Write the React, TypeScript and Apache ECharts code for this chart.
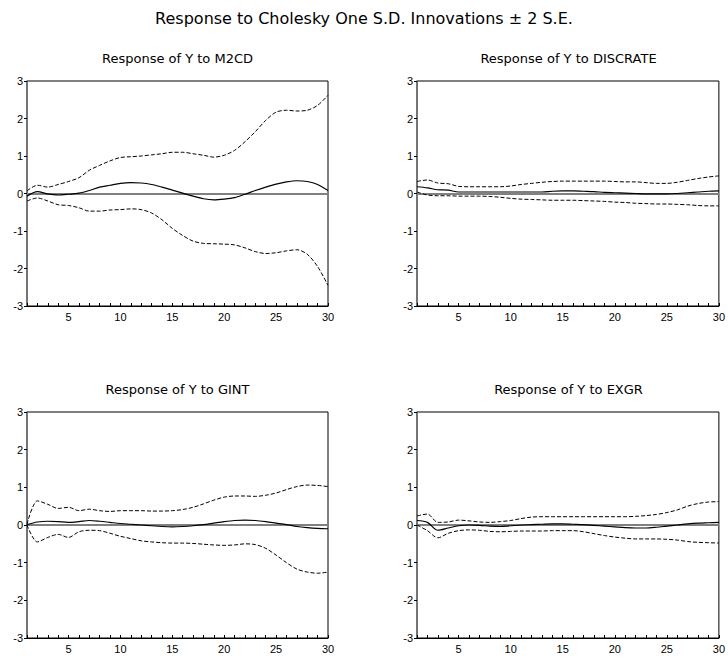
import React, { useEffect, useRef } from "react";
import * as echarts from "echarts";

const periods = Array.from({ length: 30 }, (_, i) => String(i + 1));

const mainTitle = "Response to Cholesky One S.D. Innovations \u00b1 2 S.E.";
const panelTitles = [
  "Response of Y to M2CD",
  "Response of Y to DISCRATE",
  "Response of Y to GINT",
  "Response of Y to EXGR",
];

// M2CD
const m2cdResp = [-0.07, 0.05, -0.01, -0.04, -0.02, 0.01, 0.08, 0.17, 0.22, 0.27, 0.29, 0.28, 0.24, 0.17, 0.09, 0.01, -0.07, -0.14, -0.17, -0.15, -0.11, -0.02, 0.08, 0.17, 0.25, 0.31, 0.34, 0.32, 0.24, 0.08];
const m2cdUpper = [0.07, 0.22, 0.17, 0.24, 0.32, 0.42, 0.62, 0.75, 0.87, 0.96, 0.98, 1.0, 1.03, 1.06, 1.1, 1.1, 1.06, 1.02, 0.97, 1.02, 1.15, 1.38, 1.65, 1.95, 2.17, 2.22, 2.2, 2.22, 2.35, 2.62];
const m2cdLower = [-0.2, -0.12, -0.2, -0.3, -0.32, -0.38, -0.47, -0.47, -0.44, -0.43, -0.41, -0.43, -0.52, -0.7, -0.93, -1.12, -1.27, -1.33, -1.34, -1.35, -1.37, -1.45, -1.55, -1.6, -1.58, -1.53, -1.5, -1.62, -1.95, -2.45];

// DISCRATE
const discResp = [0.18, 0.15, 0.1, 0.09, 0.04, 0.04, 0.04, 0.04, 0.04, 0.04, 0.04, 0.04, 0.04, 0.06, 0.07, 0.07, 0.06, 0.05, 0.03, 0.02, 0.01, 0.0, -0.01, -0.01, -0.01, 0.0, 0.02, 0.04, 0.06, 0.07];
const discUpper = [0.32, 0.36, 0.28, 0.26, 0.19, 0.18, 0.18, 0.18, 0.18, 0.2, 0.24, 0.27, 0.3, 0.32, 0.33, 0.33, 0.33, 0.33, 0.33, 0.32, 0.31, 0.31, 0.29, 0.27, 0.27, 0.3, 0.35, 0.4, 0.44, 0.47];
const discLower = [0.04, -0.04, -0.06, -0.06, -0.07, -0.07, -0.07, -0.08, -0.1, -0.13, -0.15, -0.16, -0.17, -0.18, -0.18, -0.18, -0.19, -0.2, -0.21, -0.23, -0.24, -0.26, -0.27, -0.28, -0.28, -0.29, -0.3, -0.32, -0.33, -0.33];

// GINT
const gintResp = [0.01, 0.08, 0.1, 0.09, 0.07, 0.09, 0.12, 0.1, 0.07, 0.04, 0.02, 0.0, -0.02, -0.04, -0.05, -0.04, -0.02, 0.01, 0.05, 0.09, 0.12, 0.13, 0.12, 0.09, 0.05, 0.01, -0.04, -0.07, -0.09, -0.1];
const gintUpper = [0.02, 0.64, 0.55, 0.44, 0.47, 0.38, 0.42, 0.38, 0.36, 0.38, 0.38, 0.38, 0.37, 0.37, 0.38, 0.41, 0.47, 0.56, 0.66, 0.74, 0.77, 0.77, 0.76, 0.79, 0.85, 0.94, 1.02, 1.06, 1.05, 1.02];
const gintLower = [0.0, -0.45, -0.33, -0.25, -0.33, -0.18, -0.14, -0.15, -0.22, -0.3, -0.36, -0.42, -0.45, -0.47, -0.48, -0.48, -0.49, -0.51, -0.53, -0.54, -0.53, -0.5, -0.52, -0.62, -0.8, -1.0, -1.17, -1.25, -1.28, -1.25];

// EXGR
const exgrResp = [0.12, 0.07, -0.14, -0.08, -0.02, 0.0, -0.01, -0.03, -0.04, -0.02, 0.0, 0.01, 0.02, 0.03, 0.03, 0.02, 0.01, -0.01, -0.03, -0.05, -0.07, -0.08, -0.08, -0.06, -0.03, 0.0, 0.03, 0.05, 0.06, 0.07];
const exgrUpper = [0.24, 0.29, 0.07, 0.08, 0.13, 0.11, 0.08, 0.07, 0.09, 0.12, 0.17, 0.21, 0.22, 0.22, 0.22, 0.22, 0.22, 0.22, 0.22, 0.22, 0.22, 0.23, 0.25, 0.28, 0.33, 0.4, 0.5, 0.57, 0.61, 0.62];
const exgrLower = [0.0, -0.15, -0.34, -0.22, -0.15, -0.13, -0.14, -0.17, -0.18, -0.17, -0.16, -0.16, -0.16, -0.15, -0.15, -0.15, -0.18, -0.23, -0.28, -0.32, -0.35, -0.37, -0.37, -0.37, -0.38, -0.4, -0.44, -0.46, -0.47, -0.48];

const panels = [
  { resp: m2cdResp, upper: m2cdUpper, lower: m2cdLower },
  { resp: discResp, upper: discUpper, lower: discLower },
  { resp: gintResp, upper: gintUpper, lower: gintLower },
  { resp: exgrResp, upper: exgrUpper, lower: exgrLower },
];

const FONT = "Liberation Sans, Arial, sans-serif";
const TITLE_FONT = "DejaVu Sans, Liberation Sans, sans-serif";

export default function App() {
  const ref = useRef<HTMLDivElement>(null);
  useEffect(() => {
    if (!ref.current) return;
    const chart = echarts.init(ref.current, undefined, { renderer: "svg" });
    const grids = [
      { left: 27, top: 81, width: 301, height: 225 },
      { left: 417, top: 81, width: 303, height: 225 },
      { left: 27, top: 412, width: 301, height: 226 },
      { left: 417, top: 412, width: 303, height: 226 },
    ];
    const titleCenters = [
      [177.5, 58],
      [568.5, 58],
      [177.5, 389],
      [568.5, 389],
    ];
    const series: any[] = [];
    panels.forEach((p, i) => {
      series.push({
        type: "line",
        xAxisIndex: i,
        yAxisIndex: i,
        data: p.resp,
        showSymbol: false,
        smooth: 0.3,
        lineStyle: { color: "#000", width: 1.2 },
        z: 5,
        markLine: {
          silent: true,
          symbol: "none",
          label: { show: false },
          lineStyle: { color: "#808080", width: 2, type: "solid" },
          data: [{ yAxis: 0 }],
          z: 3,
        },
      });
      series.push({
        type: "line",
        xAxisIndex: i,
        yAxisIndex: i,
        data: p.upper,
        showSymbol: false,
        smooth: 0.3,
        lineStyle: { color: "#000", width: 1, type: [4, 2] },
        z: 4,
      });
      series.push({
        type: "line",
        xAxisIndex: i,
        yAxisIndex: i,
        data: p.lower,
        showSymbol: false,
        smooth: 0.3,
        lineStyle: { color: "#000", width: 1, type: [4, 2] },
        z: 4,
      });
    });
    const graphics: any[] = [
      {
        type: "text",
        x: 364,
        y: 18,
        style: {
          text: mainTitle,
          font: `16px ${TITLE_FONT}`,
          fill: "#000",
          align: "center",
          verticalAlign: "middle",
        },
      },
      ...panelTitles.map((t, i) => ({
        type: "text",
        x: titleCenters[i][0],
        y: titleCenters[i][1],
        style: {
          text: t,
          font: `13px ${TITLE_FONT}`,
          fill: "#000",
          align: "center",
          verticalAlign: "middle",
        },
      })),
    ];
    chart.setOption({
      animation: false,
      backgroundColor: "#fff",
      textStyle: { fontFamily: FONT },
      graphic: graphics,
      grid: grids.map((g) => ({
        ...g,
        show: true,
        borderColor: "#000",
        borderWidth: 1,
        backgroundColor: "transparent",
      })),
      xAxis: grids.map((_, i) => ({
        type: "category",
        gridIndex: i,
        data: periods,
        boundaryGap: false,
        axisLine: { show: true, onZero: false, lineStyle: { color: "#000", width: 1 } },
        axisTick: {
          show: true,
          inside: true,
          length: 3,
          interval: 0,
          lineStyle: { color: "#000" },
        },
        axisLabel: {
          color: "#000",
          fontSize: 11,
          margin: 5,
          interval: (idx: number) => (idx + 1) % 5 === 0,
        },
        splitLine: { show: false },
      })),
      yAxis: grids.map((_, i) => ({
        type: "value",
        gridIndex: i,
        min: -3,
        max: 3,
        interval: 1,
        axisLine: { show: true, onZero: false, lineStyle: { color: "#707070", width: 1.5 } },
        axisTick: { show: true, inside: false, length: 3, lineStyle: { color: "#000" } },
        axisLabel: { color: "#000", fontSize: 11, margin: 4 },
        splitLine: { show: false },
      })),
      series,
    });
    return () => chart.dispose();
  }, []);
  return (
    <div
      ref={ref}
      style={{ position: "fixed", left: 0, top: 0, width: 728, height: 659 }}
    />
  );
}
